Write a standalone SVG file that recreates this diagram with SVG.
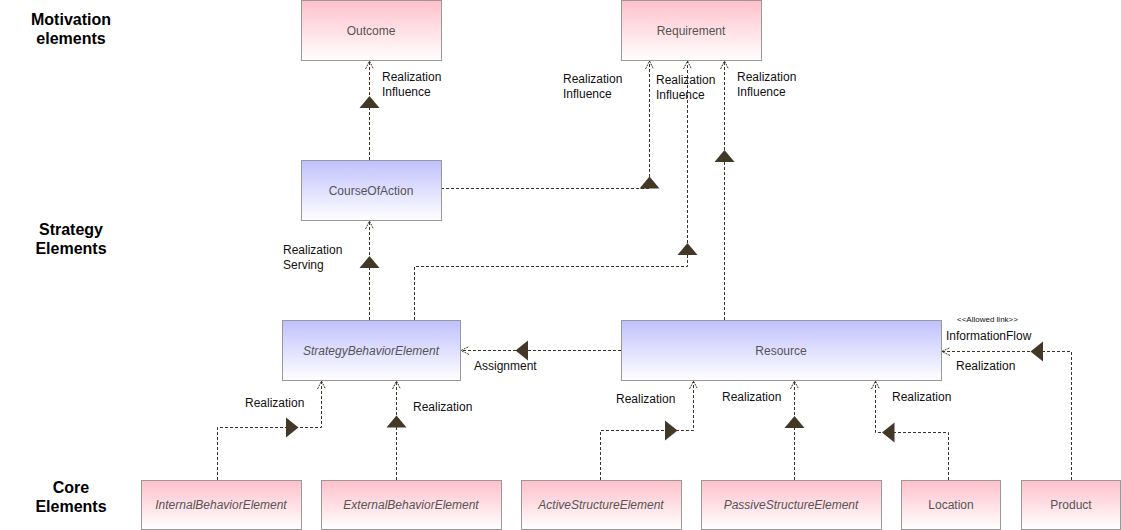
<svg xmlns="http://www.w3.org/2000/svg" width="1121" height="530" viewBox="0 0 1121 530">
<defs>
<linearGradient id="pink" x1="0" y1="0" x2="0" y2="1"><stop offset="0" stop-color="#ffc0cb"/><stop offset="1" stop-color="#ffffff"/></linearGradient>
<linearGradient id="blue" x1="0" y1="0" x2="0" y2="1"><stop offset="0" stop-color="#c0c0ff"/><stop offset="1" stop-color="#ffffff"/></linearGradient>
<marker id="open" viewBox="-10 -6 12 12" refX="0" refY="0" markerWidth="12" markerHeight="12" orient="auto" markerUnits="userSpaceOnUse">
<path d="M-8,-4 L0,0 L-8,4" fill="none" stroke="#3d3324" stroke-width="1" stroke-dasharray="2,1"/>
</marker>
<path id="triUp" d="M0,0 L10,12 L-10,12 Z"/>
</defs>
<style>
.n rect{stroke:#999;stroke-width:1}
.p rect{fill:url(#pink)}
.b rect{fill:url(#blue)}
.n text{font-family:"Liberation Sans",Arial,sans-serif;font-size:12px;fill:#555;text-anchor:middle}
.i text{font-style:italic}
.c path.l{fill:none;stroke:#3d3324;stroke-width:1;stroke-dasharray:3,2;marker-end:url(#open)}
.c .t{fill:#433826}
.lbl{font-family:"Liberation Sans",Arial,sans-serif;font-size:12px;fill:#111}
.sec{font-family:"Liberation Sans",Arial,sans-serif;font-size:16px;font-weight:bold;fill:#000;text-anchor:middle}
</style>
<g id="sections">
<text class="sec" x="71" y="25">Motivation</text>
<text class="sec" x="71" y="44">elements</text>
<text class="sec" x="71" y="235">Strategy</text>
<text class="sec" x="71" y="254">Elements</text>
<text class="sec" x="71" y="493">Core</text>
<text class="sec" x="71" y="512">Elements</text>
</g>
<g id="connectors" class="c">
<path class="l" d="M369.5,160 L369.5,61"/>
<use href="#triUp" class="t" x="369.5" y="96"/>
<path class="l" d="M441,188.5 L649.5,188.5 L649.5,61"/>
<use href="#triUp" class="t" x="649.5" y="176.5"/>
<path class="l" d="M414.5,320 L414.5,266.5 L687.5,266.5 L687.5,61"/>
<use href="#triUp" class="t" x="687.5" y="243"/>
<path class="l" d="M724.5,320 L724.5,61"/>
<use href="#triUp" class="t" x="724.5" y="150"/>
<path class="l" d="M369.5,320 L369.5,221"/>
<use href="#triUp" class="t" x="369.5" y="256"/>
<path class="l" d="M621,350.5 L461,350.5"/>
<path class="t" d="M515.5,350.5 L528,340.5 L528,360.5 Z"/>
<path class="l" d="M217.5,480 L217.5,427.5 L321.5,427.5 L321.5,381"/>
<path class="t" d="M298.5,427.5 L286,417.5 L286,437.5 Z"/>
<path class="l" d="M396.5,480 L396.5,381"/>
<use href="#triUp" class="t" x="396.5" y="415.5"/>
<path class="l" d="M600.5,480 L600.5,430.5 L693.5,430.5 L693.5,381"/>
<path class="t" d="M677.5,430.5 L665,420.5 L665,440.5 Z"/>
<path class="l" d="M794.5,480 L794.5,381"/>
<use href="#triUp" class="t" x="794.5" y="416"/>
<path class="l" d="M948.5,480 L948.5,432.5 L875.5,432.5 L875.5,381"/>
<path class="t" d="M882,432.5 L894.5,422.5 L894.5,442.5 Z"/>
<path class="l" d="M1071.5,480 L1071.5,351.5 L942,351.5"/>
<path class="t" d="M1030.5,351.5 L1043,341.5 L1043,361.5 Z"/>
</g>
<g id="labels">
<text class="lbl" x="382" y="81">Realization</text>
<text class="lbl" x="382" y="96">Influence</text>
<text class="lbl" x="563" y="83">Realization</text>
<text class="lbl" x="563" y="98">Influence</text>
<text class="lbl" x="656" y="84">Realization</text>
<text class="lbl" x="656" y="99">Influence</text>
<text class="lbl" x="737" y="81">Realization</text>
<text class="lbl" x="737" y="96">Influence</text>
<text class="lbl" x="283" y="254">Realization</text>
<text class="lbl" x="283" y="269">Serving</text>
<text class="lbl" x="474" y="370">Assignment</text>
<text class="lbl" x="245" y="407">Realization</text>
<text class="lbl" x="413" y="411">Realization</text>
<text class="lbl" x="616" y="403">Realization</text>
<text class="lbl" x="722" y="401">Realization</text>
<text class="lbl" x="892" y="401">Realization</text>
<text class="lbl" x="957" y="322" style="font-size:8px">&lt;&lt;Allowed link&gt;&gt;</text>
<text class="lbl" x="946" y="340">InformationFlow</text>
<text class="lbl" x="956" y="370">Realization</text>
</g>
<g id="Outcome" class="n p"><rect x="301.5" y="0.5" width="140" height="60"/><text x="371" y="35">Outcome</text></g>
<g id="Requirement" class="n p"><rect x="621.5" y="0.5" width="140" height="60"/><text x="691" y="35">Requirement</text></g>
<g id="CourseOfAction" class="n b"><rect x="301.5" y="160.5" width="140" height="60"/><text x="371" y="195">CourseOfAction</text></g>
<g id="StrategyBehaviorElement" class="n b i"><rect x="282.5" y="320.5" width="178" height="60"/><text x="371" y="355">StrategyBehaviorElement</text></g>
<g id="Resource" class="n b"><rect x="621.5" y="320.5" width="320" height="60"/><text x="781" y="355">Resource</text></g>
<g id="InternalBehaviorElement" class="n p i"><rect x="141.5" y="480.5" width="160" height="49"/><text x="221" y="509">InternalBehaviorElement</text></g>
<g id="ExternalBehaviorElement" class="n p i"><rect x="321.5" y="480.5" width="180" height="49"/><text x="411" y="509">ExternalBehaviorElement</text></g>
<g id="ActiveStructureElement" class="n p i"><rect x="521.5" y="480.5" width="160" height="49"/><text x="601" y="509">ActiveStructureElement</text></g>
<g id="PassiveStructureElement" class="n p i"><rect x="701.5" y="480.5" width="180" height="49"/><text x="791" y="509">PassiveStructureElement</text></g>
<g id="Location" class="n p"><rect x="901.5" y="480.5" width="99" height="49"/><text x="951" y="509">Location</text></g>
<g id="Product" class="n p"><rect x="1021.5" y="480.5" width="99" height="49"/><text x="1071" y="509">Product</text></g>
</svg>
